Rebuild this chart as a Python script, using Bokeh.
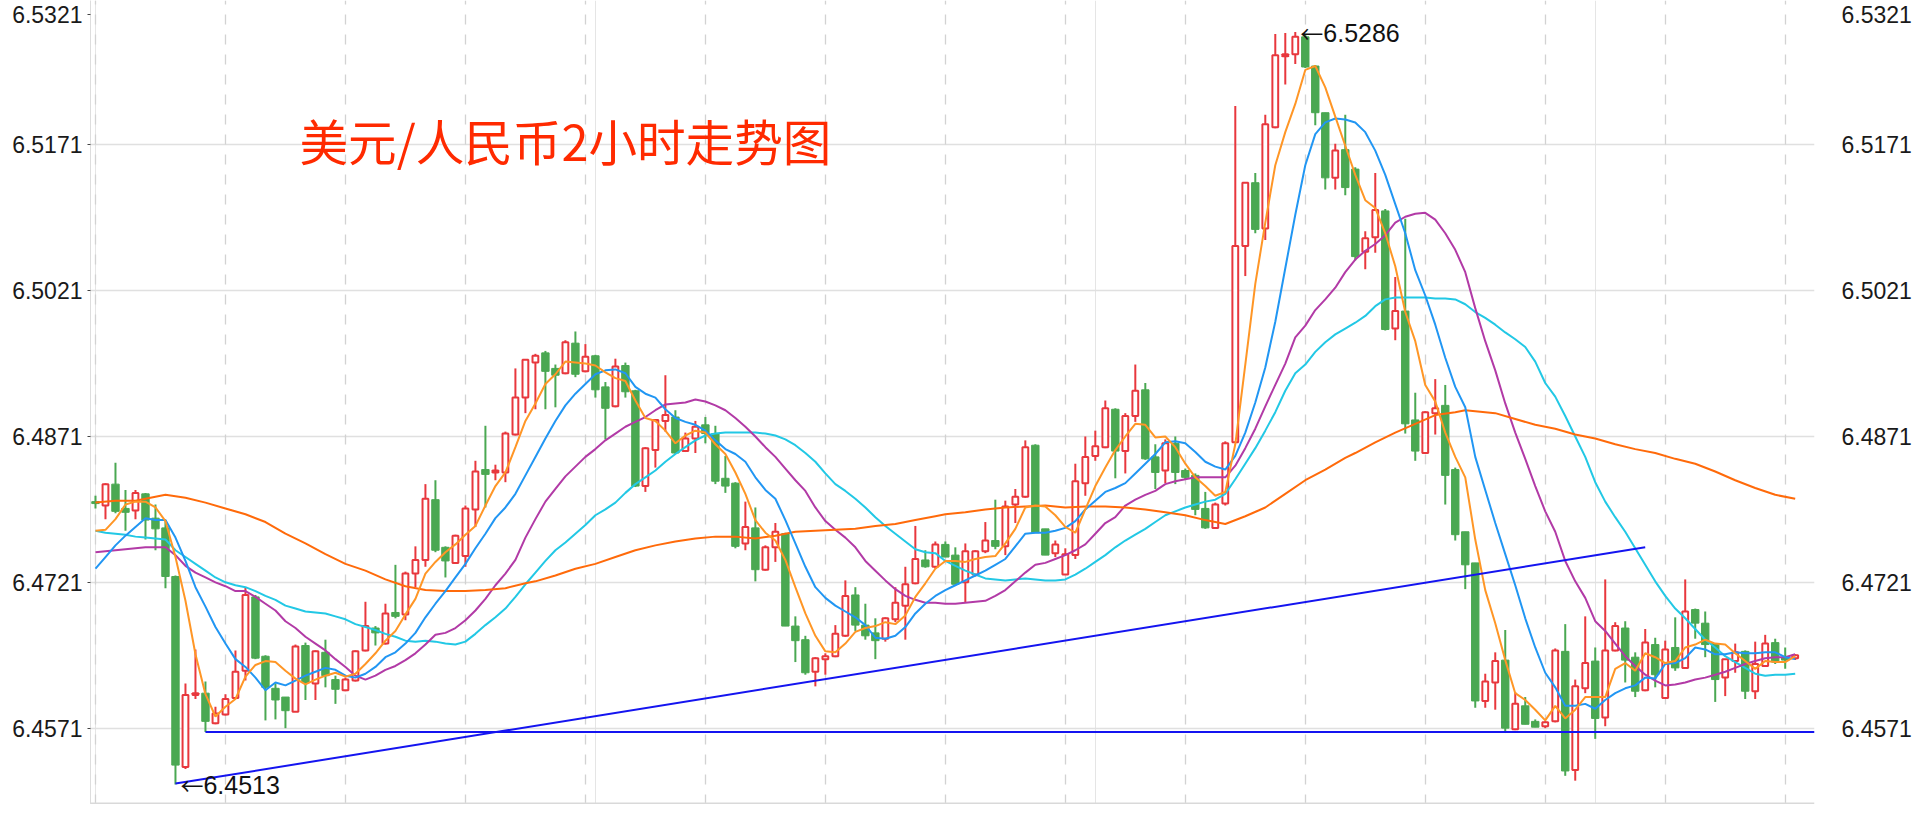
from bokeh.plotting import figure
from bokeh.models import FixedTicker, Grid, LinearAxis, CustomJSTickFormatter, Span
from bokeh.embed import file_html
from bokeh.resources import INLINE
from bokeh.core.properties import value

# ---------------- data (USD/CNY, 2-hour candles) ----------------
opens = [
    6.4804, 6.4800, 6.4822, 6.4797, 6.4795, 6.4812, 6.4787, 6.4777, 6.4727, 6.4531,  # 0-9
    6.4605, 6.4607, 6.4576, 6.4585, 6.4602, 6.4630, 6.4706, 6.4645, 6.4612, 6.4603,  # 10-19
    6.4588, 6.4656, 6.4617, 6.4649, 6.4621, 6.4610, 6.4620, 6.4651, 6.4674, 6.4658,  # 20-29
    6.4690, 6.4688, 6.4730, 6.4744, 6.4806, 6.4757, 6.4741, 6.4748, 6.4796, 6.4837,  # 30-39
    6.4834, 6.4834, 6.4873, 6.4911, 6.4947, 6.4957, 6.4941, 6.4936, 6.4967, 6.4938,  # 40-49
    6.4954, 6.4922, 6.4902, 6.4944, 6.4918, 6.4820, 6.4857, 6.4887, 6.4891, 6.4856,  # 50-59
    6.4869, 6.4883, 6.4874, 6.4828, 6.4823, 6.4761, 6.4777, 6.4734, 6.4757, 6.4771,  # 60-69
    6.4676, 6.4662, 6.4629, 6.4642, 6.4645, 6.4666, 6.4708, 6.4677, 6.4669, 6.4663,  # 70-79
    6.4683, 6.4697, 6.4720, 6.4744, 6.4737, 6.4760, 6.4749, 6.4721, 6.4729, 6.4753,  # 80-89
    6.4764, 6.4758, 6.4801, 6.4809, 6.4862, 6.4776, 6.4751, 6.4729, 6.4749, 6.4823,  # 90-99
    6.4851, 6.4860, 6.4899, 6.4856, 6.4892, 6.4919, 6.4850, 6.4836, 6.4864, 6.4836,  # 100-109
    6.4831, 6.4797, 6.4777, 6.4802, 6.4865, 6.5067, 6.5132, 6.5085, 6.5189, 6.5262,  # 110-119
    6.5264, 6.5282, 6.5252, 6.5204, 6.5137, 6.5166, 6.5146, 6.5061, 6.5076, 6.5103,  # 120-129
    6.4982, 6.5000, 6.4888, 6.4854, 6.4895, 6.4903, 6.4837, 6.4773, 6.4741, 6.4599,  # 130-139
    6.4618, 6.4641, 6.4570, 6.4594, 6.4578, 6.4573, 6.4578, 6.4650, 6.4528, 6.4612,  # 140-149
    6.4640, 6.4582, 6.4651, 6.4674, 6.4644, 6.4610, 6.4657, 6.4602, 6.4654, 6.4633,  # 150-159
    6.4693, 6.4679, 6.4658, 6.4623, 6.4640, 6.4650, 6.4609, 6.4635, 6.4659, 6.4644,  # 160-169
    6.4643,                                                                          # 170
]
highs = [
    6.4810, 6.4823, 6.4844, 6.4816, 6.4816, 6.4813, 6.4801, 6.4785, 6.4728, 6.4617,
    6.4652, 6.4619, 6.4593, 6.4606, 6.4651, 6.4716, 6.4708, 6.4646, 6.4617, 6.4603,
    6.4657, 6.4659, 6.4651, 6.4662, 6.4625, 6.4623, 6.4651, 6.4701, 6.4676, 6.4699,
    6.4739, 6.4732, 6.4758, 6.4822, 6.4826, 6.4758, 6.4770, 6.4800, 6.4846, 6.4882,
    6.4842, 6.4876, 6.4941, 6.4950, 6.4956, 6.4959, 6.4945, 6.4970, 6.4979, 6.4966,
    6.4955, 6.4927, 6.4951, 6.4947, 6.4919, 6.4860, 6.4889, 6.4934, 6.4898, 6.4875,
    6.4887, 6.4891, 6.4882, 6.4851, 6.4824, 6.4804, 6.4798, 6.4759, 6.4782, 6.4772,
    6.4686, 6.4666, 6.4644, 6.4648, 6.4677, 6.4723, 6.4716, 6.4699, 6.4684, 6.4685,
    6.4716, 6.4737, 6.4779, 6.4754, 6.4763, 6.4763, 6.4757, 6.4761, 6.4754, 6.4783,
    6.4806, 6.4805, 6.4817, 6.4867, 6.4863, 6.4776, 6.4764, 6.4756, 6.4843, 6.4871,
    6.4877, 6.4908, 6.4900, 6.4895, 6.4945, 6.4926, 6.4863, 6.4868, 6.4871, 6.4838,
    6.4833, 6.4814, 6.4803, 6.4866, 6.5211, 6.5132, 6.5142, 6.5202, 6.5285, 6.5286,
    6.5287, 6.5284, 6.5253, 6.5204, 6.5172, 6.5202, 6.5148, 6.5082, 6.5142, 6.5105,
    6.5035, 6.5095, 6.4916, 6.4897, 6.4930, 6.4924, 6.4839, 6.4773, 6.4741, 6.4627,
    6.4649, 6.4672, 6.4608, 6.4603, 6.4580, 6.4578, 6.4653, 6.4678, 6.4621, 6.4686,
    6.4654, 6.4724, 6.4680, 6.4681, 6.4649, 6.4673, 6.4664, 6.4661, 6.4685, 6.4724,
    6.4694, 6.4691, 6.4658, 6.4642, 6.4658, 6.4651, 6.4660, 6.4667, 6.4663, 6.4654,
    6.4647,
]
lows = [
    6.4797, 6.4786, 6.4792, 6.4774, 6.4786, 6.4765, 6.4754, 6.4715, 6.4513, 6.4529,
    6.4601, 6.4567, 6.4575, 6.4584, 6.4601, 6.4620, 6.4642, 6.4579, 6.4580, 6.4571,
    6.4588, 6.4600, 6.4600, 6.4613, 6.4596, 6.4609, 6.4619, 6.4650, 6.4656, 6.4657,
    6.4684, 6.4682, 6.4716, 6.4737, 6.4752, 6.4726, 6.4740, 6.4737, 6.4778, 6.4798,
    6.4826, 6.4824, 6.4872, 6.4895, 6.4899, 6.4899, 6.4901, 6.4935, 6.4932, 6.4937,
    6.4911, 6.4868, 6.4901, 6.4911, 6.4819, 6.4814, 6.4839, 6.4876, 6.4853, 6.4855,
    6.4854, 6.4864, 6.4822, 6.4813, 6.4756, 6.4754, 6.4722, 6.4733, 6.4742, 6.4676,
    6.4639, 6.4626, 6.4614, 6.4626, 6.4644, 6.4665, 6.4671, 6.4662, 6.4642, 6.4660,
    6.4680, 6.4662, 6.4719, 6.4736, 6.4735, 6.4747, 6.4719, 6.4700, 6.4727, 6.4751,
    6.4755, 6.4749, 6.4782, 6.4808, 6.4772, 6.4749, 6.4747, 6.4729, 6.4745, 6.4810,
    6.4846, 6.4859, 6.4828, 6.4833, 6.4886, 6.4847, 6.4817, 6.4823, 6.4822, 6.4827,
    6.4790, 6.4776, 6.4776, 6.4800, 6.4865, 6.5036, 6.5080, 6.5073, 6.5188, 6.5233,
    6.5254, 6.5250, 6.5191, 6.5125, 6.5125, 6.5119, 6.5052, 6.5043, 6.5060, 6.4980,
    6.4970, 6.4874, 6.4846, 6.4853, 6.4873, 6.4801, 6.4764, 6.4714, 6.4592, 6.4592,
    6.4590, 6.4566, 6.4569, 6.4575, 6.4572, 6.4571, 6.4577, 6.4522, 6.4517, 6.4607,
    6.4560, 6.4573, 6.4650, 6.4618, 6.4603, 6.4609, 6.4613, 6.4602, 6.4630, 6.4632,
    6.4663, 6.4644, 6.4598, 6.4604, 6.4628, 6.4601, 6.4601, 6.4635, 6.4637, 6.4632,
    6.4641,
]
closes = [
    6.4802, 6.4822, 6.4794, 6.4793, 6.4813, 6.4785, 6.4776, 6.4727, 6.4533, 6.4605,
    6.4607, 6.4578, 6.4586, 6.4601, 6.4629, 6.4708, 6.4643, 6.4613, 6.4600, 6.4589,
    6.4655, 6.4618, 6.4650, 6.4625, 6.4611, 6.4621, 6.4650, 6.4676, 6.4669, 6.4689,
    6.4686, 6.4730, 6.4744, 6.4807, 6.4754, 6.4743, 6.4769, 6.4797, 6.4835, 6.4832,
    6.4836, 6.4874, 6.4911, 6.4950, 6.4954, 6.4938, 6.4934, 6.4968, 6.4935, 6.4953,
    6.4919, 6.4900, 6.4943, 6.4917, 6.4820, 6.4859, 6.4888, 6.4893, 6.4854, 6.4869,
    6.4881, 6.4874, 6.4825, 6.4820, 6.4758, 6.4778, 6.4734, 6.4757, 6.4773, 6.4676,
    6.4661, 6.4628, 6.4643, 6.4645, 6.4668, 6.4707, 6.4677, 6.4666, 6.4661, 6.4684,
    6.4700, 6.4719, 6.4745, 6.4737, 6.4760, 6.4747, 6.4719, 6.4753, 6.4753, 6.4764,
    6.4758, 6.4799, 6.4809, 6.4860, 6.4772, 6.4749, 6.4760, 6.4750, 6.4825, 6.4850,
    6.4861, 6.4900, 6.4856, 6.4892, 6.4918, 6.4848, 6.4834, 6.4864, 6.4834, 6.4829,
    6.4796, 6.4777, 6.4801, 6.4864, 6.5067, 6.5132, 6.5084, 6.5192, 6.5263, 6.5264,
    6.5282, 6.5251, 6.5204, 6.5137, 6.5165, 6.5127, 6.5056, 6.5075, 6.5104, 6.4981,
    6.5000, 6.4884, 6.4856, 6.4896, 6.4900, 6.4831, 6.4770, 6.4739, 6.4599, 6.4619,
    6.4640, 6.4571, 6.4596, 6.4575, 6.4572, 6.4577, 6.4651, 6.4527, 6.4614, 6.4638,
    6.4581, 6.4651, 6.4676, 6.4641, 6.4609, 6.4659, 6.4626, 6.4652, 6.4633, 6.4691,
    6.4679, 6.4657, 6.4621, 6.4642, 6.4649, 6.4609, 6.4637, 6.4658, 6.4639, 6.4641,
    6.4646,
]

# moving averages (one value per candle)
ma5 = [
    6.4774, 6.4775, 6.4786, 6.4801, 6.4804, 6.4804, 6.4798, 6.4784, 6.4747, 6.4702,
    6.4647, 6.4606, 6.4583, 6.4593, 6.4601, 6.4624, 6.4636, 6.4640, 6.4639, 6.4630,
    6.4622, 6.4616, 6.4621, 6.4625, 6.4628, 6.4624, 6.4627, 6.4637, 6.4648, 6.4661,
    6.4671, 6.4688, 6.4704, 6.4730, 6.4742, 6.4752, 6.4760, 6.4770, 6.4779, 6.4800,
    6.4820, 6.4834, 6.4860, 6.4887, 6.4905, 6.4925, 6.4935, 6.4948, 6.4947, 6.4946,
    6.4944, 6.4937, 6.4931, 6.4928, 6.4908, 6.4890, 6.4887, 6.4877, 6.4864, 6.4872,
    6.4877, 6.4875, 6.4863, 6.4853, 6.4834, 6.4812, 6.4785, 6.4772, 6.4764, 6.4744,
    6.4716, 6.4689, 6.4666, 6.4650, 6.4649, 6.4658, 6.4670, 6.4674, 6.4676, 6.4680,
    6.4678, 6.4687, 6.4706, 6.4720, 6.4735, 6.4743, 6.4743, 6.4742, 6.4745, 6.4747,
    6.4748, 6.4761, 6.4776, 6.4798, 6.4800, 6.4799, 6.4790, 6.4778, 6.4772, 6.4796,
    6.4820, 6.4839, 6.4857, 6.4871, 6.4884, 6.4883, 6.4870, 6.4871, 6.4860, 6.4843,
    6.4829, 6.4820, 6.4810, 6.4814, 6.4863, 6.4945, 6.5028, 6.5091, 6.5150, 6.5184,
    6.5213, 6.5248, 6.5252, 6.5230, 6.5200, 6.5170, 6.5140, 6.5114, 6.5106, 6.5080,
    6.5046, 6.4999, 6.4969, 6.4924, 6.4907, 6.4875, 6.4850, 6.4829, 6.4765, 6.4713,
    6.4679, 6.4641, 6.4607, 6.4600, 6.4590, 6.4579, 6.4594, 6.4581, 6.4590, 6.4603,
    6.4603, 6.4603, 6.4632, 6.4638, 6.4630, 6.4648, 6.4644, 6.4638, 6.4640, 6.4654,
    6.4657, 6.4662, 6.4658, 6.4657, 6.4648, 6.4640, 6.4632, 6.4640, 6.4639, 6.4639,
    6.4645,
]
ma10 = [
    6.4735, 6.4747, 6.4759, 6.4769, 6.4778, 6.4787, 6.4785, 6.4785, 6.4767, 6.4743,
    6.4716, 6.4696, 6.4675, 6.4658, 6.4642, 6.4634, 6.4623, 6.4610, 6.4618, 6.4615,
    6.4620, 6.4625, 6.4629, 6.4633, 6.4631, 6.4625, 6.4623, 6.4627, 6.4634, 6.4644,
    6.4649, 6.4658, 6.4669, 6.4685, 6.4699, 6.4712, 6.4726, 6.4740, 6.4756, 6.4771,
    6.4787, 6.4798, 6.4812, 6.4831, 6.4850, 6.4869, 6.4887, 6.4903, 6.4915, 6.4925,
    6.4935, 6.4939, 6.4940, 6.4936, 6.4922, 6.4915, 6.4911, 6.4899, 6.4890, 6.4886,
    6.4883, 6.4877, 6.4867, 6.4858, 6.4853, 6.4845, 6.4829, 6.4816, 6.4807, 6.4785,
    6.4761, 6.4737, 6.4716, 6.4705, 6.4697, 6.4691, 6.4685, 6.4677, 6.4664, 6.4663,
    6.4666, 6.4675, 6.4689, 6.4699, 6.4707, 6.4713, 6.4718, 6.4723, 6.4728, 6.4733,
    6.4739, 6.4745, 6.4758, 6.4771, 6.4772, 6.4772, 6.4774, 6.4777, 6.4784, 6.4796,
    6.4805, 6.4814, 6.4818, 6.4823, 6.4833, 6.4843, 6.4853, 6.4865, 6.4866, 6.4864,
    6.4855, 6.4845, 6.4840, 6.4837, 6.4851, 6.4875, 6.4906, 6.4942, 6.4989, 6.5044,
    6.5099, 6.5150, 6.5182, 6.5194, 6.5198, 6.5197, 6.5194, 6.5184, 6.5165, 6.5140,
    6.5110, 6.5080, 6.5042, 6.5016, 6.4986, 6.4952, 6.4922, 6.4901, 6.4850, 6.4816,
    6.4782, 6.4750, 6.4718, 6.4684, 6.4654, 6.4628, 6.4613, 6.4594, 6.4594, 6.4596,
    6.4591, 6.4600, 6.4607, 6.4612, 6.4615, 6.4623, 6.4622, 6.4637, 6.4638, 6.4643,
    6.4654, 6.4652, 6.4647, 6.4647, 6.4649, 6.4648, 6.4648, 6.4649, 6.4649, 6.4644,
    6.4642,
]
ma20 = [
    6.4752, 6.4753, 6.4754, 6.4755, 6.4756, 6.4757, 6.4757, 6.4757, 6.4749, 6.4738,
    6.4731, 6.4726, 6.4721, 6.4717, 6.4712, 6.4712, 6.4706, 6.4699, 6.4692, 6.4681,
    6.4674, 6.4665, 6.4658, 6.4651, 6.4642, 6.4634, 6.4625, 6.4621, 6.4625, 6.4631,
    6.4635, 6.4641, 6.4648, 6.4657, 6.4667, 6.4669, 6.4674, 6.4682, 6.4692, 6.4704,
    6.4718, 6.4730, 6.4744, 6.4767, 6.4786, 6.4804, 6.4817, 6.4830, 6.4840, 6.4850,
    6.4858, 6.4867, 6.4874, 6.4881, 6.4886, 6.4891, 6.4898, 6.4904, 6.4905, 6.4906,
    6.4909, 6.4907, 6.4903, 6.4898, 6.4890, 6.4881, 6.4871, 6.4860, 6.4850, 6.4838,
    6.4826, 6.4815, 6.4798, 6.4784, 6.4775, 6.4767, 6.4757, 6.4743, 6.4733, 6.4723,
    6.4714, 6.4707, 6.4703, 6.4700, 6.4700, 6.4699, 6.4699, 6.4700, 6.4701, 6.4702,
    6.4707, 6.4713, 6.4722, 6.4731, 6.4739, 6.4741, 6.4745, 6.4749, 6.4754, 6.4760,
    6.4771, 6.4782, 6.4788, 6.4800, 6.4806, 6.4811, 6.4815, 6.4822, 6.4825, 6.4827,
    6.4829, 6.4829, 6.4829, 6.4829, 6.4841, 6.4859, 6.4879, 6.4902, 6.4924, 6.4946,
    6.4973, 6.4985, 6.5001, 6.5012, 6.5024, 6.5040, 6.5053, 6.5062, 6.5069, 6.5078,
    6.5091, 6.5097, 6.5100, 6.5101, 6.5094, 6.5080, 6.5063, 6.5040, 6.5003, 6.4969,
    6.4939, 6.4905, 6.4875, 6.4848, 6.4820, 6.4794, 6.4773, 6.4743, 6.4722, 6.4705,
    6.4681, 6.4671, 6.4658, 6.4645, 6.4635, 6.4626, 6.4620, 6.4615, 6.4616, 6.4618,
    6.4621, 6.4623, 6.4626, 6.4629, 6.4633, 6.4637, 6.4640, 6.4643, 6.4644, 6.4644,
    6.4647,
]
ma30 = [
    6.4774, 6.4772, 6.4771, 6.4770, 6.4768, 6.4767, 6.4766, 6.4765, 6.4754, 6.4747,
    6.4740, 6.4733, 6.4726, 6.4721, 6.4718, 6.4716, 6.4712, 6.4707, 6.4703, 6.4697,
    6.4694, 6.4691, 6.4690, 6.4689, 6.4686, 6.4683, 6.4678, 6.4675, 6.4672, 6.4668,
    6.4665, 6.4661, 6.4660, 6.4661, 6.4660, 6.4658, 6.4657, 6.4660, 6.4668, 6.4677,
    6.4685, 6.4694, 6.4706, 6.4719, 6.4731, 6.4743, 6.4754, 6.4762, 6.4771, 6.4780,
    6.4790, 6.4796, 6.4803, 6.4813, 6.4822, 6.4829, 6.4836, 6.4845, 6.4853, 6.4860,
    6.4867, 6.4872, 6.4874, 6.4875, 6.4875, 6.4875, 6.4875, 6.4874, 6.4872, 6.4868,
    6.4862, 6.4854, 6.4845, 6.4833, 6.4822, 6.4815, 6.4807, 6.4798, 6.4788, 6.4779,
    6.4771, 6.4763, 6.4755, 6.4752, 6.4751, 6.4743, 6.4738, 6.4733, 6.4729, 6.4725,
    6.4724, 6.4723, 6.4724, 6.4725, 6.4724, 6.4723, 6.4723, 6.4724, 6.4729, 6.4735,
    6.4742, 6.4749, 6.4757, 6.4764, 6.4770, 6.4776, 6.4783, 6.4790, 6.4794, 6.4798,
    6.4801, 6.4804, 6.4806, 6.4812, 6.4827, 6.4843, 6.4859, 6.4877, 6.4896, 6.4918,
    6.4936, 6.4945, 6.4958, 6.4968, 6.4976, 6.4982, 6.4988, 6.4995, 6.5005, 6.5012,
    6.5014, 6.5014, 6.5014, 6.5014, 6.5013, 6.5013, 6.5012, 6.5007, 6.4999, 6.4993,
    6.4986, 6.4978, 6.4971, 6.4963, 6.4948, 6.4926, 6.4912, 6.4892, 6.4871, 6.4850,
    6.4824, 6.4804, 6.4788, 6.4773, 6.4756, 6.4739, 6.4722, 6.4707, 6.4694, 6.4684,
    6.4673, 6.4662, 6.4654, 6.4645, 6.4639, 6.4633, 6.4627, 6.4625, 6.4626, 6.4626,
    6.4627,
]
# long moving average, read at these candle positions
ma60_idx = [0, 2, 4, 6, 7, 9, 11, 13, 15, 17, 19, 21, 23, 25, 27, 29, 31, 33, 35, 37,
            39, 41, 43, 44, 46, 48, 50, 52, 54, 56, 58, 60, 62, 64, 66, 68, 70, 72, 74, 76,
            78, 80, 82, 84, 85, 87, 89, 91, 93, 95, 97, 99, 101, 103, 105, 107, 109, 111, 113, 115,
            117, 119, 121, 123, 125, 126, 128, 130, 132, 134, 136, 137, 138, 140, 142, 144, 146, 148, 150, 152,
            154, 156, 158, 160, 162, 164, 166, 168, 170]
ma60 = [6.4803, 6.4805, 6.4805, 6.4809, 6.4811, 6.4808, 6.4803, 6.4797, 6.4791, 6.4783,
        6.4771, 6.4761, 6.4750, 6.4740, 6.4733, 6.4724, 6.4717, 6.4713, 6.4712, 6.4712,
        6.4713, 6.4715, 6.4720, 6.4722, 6.4728, 6.4735, 6.4740, 6.4747, 6.4754, 6.4759,
        6.4763, 6.4766, 6.4768, 6.4768, 6.4766, 6.4769, 6.4773, 6.4774, 6.4775, 6.4776,
        6.4779, 6.4781, 6.4785, 6.4789, 6.4791, 6.4793, 6.4796, 6.4798, 6.4799, 6.4800,
        6.4798, 6.4799, 6.4799, 6.4798, 6.4796, 6.4793, 6.4790, 6.4785, 6.4781, 6.4789,
        6.4798, 6.4812, 6.4826, 6.4837, 6.4849, 6.4854, 6.4865, 6.4875, 6.4884, 6.4893,
        6.4896, 6.4898, 6.4897, 6.4895, 6.4889, 6.4883, 6.4879, 6.4873, 6.4869, 6.4863,
        6.4858, 6.4854, 6.4848, 6.4843, 6.4835, 6.4826, 6.4818, 6.4811, 6.4807]

# trend lines (candle index, price)
support_x = [8, 155]
support_y = [6.4514, 6.4757]
floor_x0 = 11
floor_y = 6.4567

y_ticks = [6.4571, 6.4721, 6.4871, 6.5021, 6.5171]
top_tick_label = "6.5321"
day_marks = [0, 13, 25, 37, 49, 61, 73, 85, 97, 109, 121, 133, 145, 157, 169]
low_mark = (8, 6.4513, "6.4513")
high_mark = (120, 6.5286, "6.5286")
title_text = "美元/人民币2小时走势图"

# ---------------- styling ----------------
RED = "#e8373d"
GREEN = "#4aa852"
LABEL_FONT = "Liberation Sans"

n = len(closes)
idx = list(range(n))
X0, X1 = -0.498, 171.93
Y0, Y1 = 6.44925, 6.53194

p = figure(width=1914, height=804, output_backend="svg", toolbar_location=None,
           x_range=(X0, X1), y_range=(Y0, Y1),
           x_axis_location=None, y_axis_location="left",
           min_border_left=90, min_border_right=92, min_border_top=0, min_border_bottom=0)
p.outline_line_color = None
p.background_fill_color = "white"

TOP_POS = 6.5305   # where the clipped top label (6.5321) is shown
fmt = CustomJSTickFormatter(code="return tick > 6.525 ? '%s' : tick.toFixed(4);" % top_tick_label)
axis_ticks = y_ticks + [TOP_POS]

ya = p.yaxis[0]
ya.ticker = FixedTicker(ticks=axis_ticks)
ya.formatter = fmt
ya.axis_line_color = "#dddddd"
ya.axis_line_width = 1
ya.major_tick_out = 3
ya.major_tick_in = 0
ya.major_tick_line_color = "#444444"
ya.minor_tick_line_color = None
ya.major_label_standoff = 5
ya.major_label_text_font = LABEL_FONT
ya.major_label_text_font_size = "23px"
ya.major_label_text_color = "#1a1a1a"

ra = LinearAxis(ticker=FixedTicker(ticks=axis_ticks), formatter=fmt)
ra.axis_line_color = None
ra.major_tick_line_color = None
ra.minor_tick_line_color = None
ra.major_label_standoff = 21
ra.major_label_text_font = LABEL_FONT
ra.major_label_text_font_size = "23px"
ra.major_label_text_color = "#1a1a1a"
p.add_layout(ra, "right")

p.ygrid.ticker = FixedTicker(ticks=y_ticks)
p.ygrid.grid_line_color = "#e0e0e0"
p.ygrid.grid_line_width = 1.3
p.add_layout(Grid(dimension=0, ticker=FixedTicker(ticks=day_marks),
                  grid_line_color="#d2d2d2", grid_line_dash="10 10", grid_line_width=1.3))

# bottom baseline
p.add_layout(Span(location=Y0, dimension="width", line_color="#d9d9d9", line_width=4))

# candles
up = [i for i in idx if closes[i] >= opens[i]]
dn = [i for i in idx if closes[i] < opens[i]]
wick_col = [RED if closes[i] >= opens[i] else GREEN for i in idx]
p.segment(x0=idx, y0=highs, x1=idx, y1=lows, line_color=wick_col, line_width=2)
p.vbar(x=up, width=0.58, top=[closes[i] for i in up], bottom=[opens[i] for i in up],
       fill_color="white", line_color=RED, line_width=2)
p.vbar(x=dn, width=0.74, top=[opens[i] for i in dn], bottom=[closes[i] for i in dn],
       fill_color=GREEN, line_color=GREEN, line_width=1)

# moving averages
p.line(idx, ma30, line_color="#22c8e5", line_width=2)
p.line(idx, ma20, line_color="#b23aa6", line_width=2)
p.line(ma60_idx, ma60, line_color="#ff6a0a", line_width=2)
p.line(idx, ma10, line_color="#2196f3", line_width=2)
p.line(idx, ma5, line_color="#ff9626", line_width=2)

# trend lines
p.line(support_x, support_y, line_color="#1414f0", line_width=2)
p.segment(x0=[floor_x0], y0=[floor_y], x1=[X1], y1=[floor_y], line_color="#1414f0", line_width=2)

# extreme-value annotations: arrow + value
for (mx, my, mt) in (low_mark, high_mark):
    p.text(x=[mx], y=[my], text=["←"], x_offset=5, text_baseline="middle", text_align="left",
           text_font=value("Noto Sans CJK SC"), text_font_size="23px", text_color="#111111")
    p.text(x=[mx], y=[my], text=[mt], x_offset=28, text_baseline="middle", text_align="left",
           text_font=value(LABEL_FONT), text_font_size="25px", text_color="#111111")

p.text(x=[20.4], y=[6.5176], text=[title_text], text_baseline="middle", text_align="left",
       text_font=value("Noto Sans CJK SC"), text_font_size="48.6px", text_color="#ff2a00")

open("out.html", "w").write(file_html(p, INLINE))
